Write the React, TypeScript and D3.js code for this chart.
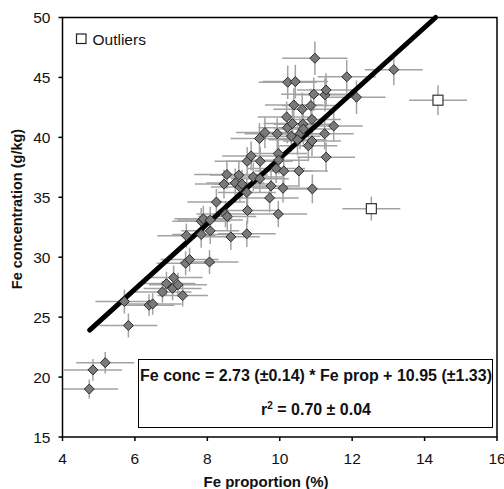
import React from 'react';
import * as d3 from 'd3';

// Fe proportion (%) vs Fe concentration (g/kg), with error bars
const feProp = [
  4.74, 4.84, 5.18, 5.71, 5.82, 6.39, 6.49, 6.76, 6.87, 7.07, 7.04, 7.19, 7.32, 7.40, 7.51, 7.42,
  8.06, 7.83, 7.89, 7.83, 8.08, 8.08, 8.25, 8.50, 8.55, 8.65, 8.46, 8.54, 8.87, 8.77, 8.90, 8.96,
  9.09, 9.10, 9.21, 9.27, 9.11, 9.09, 9.46, 9.45, 9.44, 9.59, 9.76, 9.72, 9.96, 9.93, 9.96, 9.97,
  9.90, 10.11, 10.09, 10.22, 10.43, 10.19, 10.21, 10.39, 10.35, 10.32, 10.56, 10.62, 10.64, 10.65,
  10.53, 10.79, 10.89, 10.86, 10.89, 10.94, 10.97, 10.90, 11.25, 11.28, 11.24, 11.28, 11.49, 11.85,
  12.12, 13.15, 10.49,
];
const feConc = [
  19.0, 20.6, 21.2, 26.3, 24.3, 26.0, 26.1, 27.1, 27.8, 28.3, 27.4, 27.7, 26.8, 29.5, 29.8, 31.8,
  29.6, 33.0, 33.2, 31.9, 32.2, 33.1, 34.6, 33.6, 33.4, 31.7, 36.1, 36.9, 36.85, 36.2, 35.85, 36.1,
  35.4, 38.0, 38.45, 36.7, 33.9, 31.95, 38.0, 36.55, 39.9, 40.4, 35.95, 34.95, 33.6, 40.3, 38.65, 38.1,
  37.4, 37.2, 35.75, 44.6, 44.65, 41.7, 40.8, 42.7, 41.15, 40.1, 40.3, 42.35, 41.1, 40.7,
  37.2, 39.3, 39.7, 42.65, 41.5, 43.6, 46.6, 35.7, 43.55, 43.95, 40.3, 38.35, 40.95, 45.05,
  43.35, 45.65, 39.8,
];
const propErr = [
  0.8, 0.8, 0.8, 0.8, 0.8, 0.7, 0.8, 0.8, 0.8, 0.8, 0.8, 0.8, 0.7, 0.8, 0.8, 0.8,
  0.8, 0.8, 0.8, 0.8, 0.8, 0.9, 0.8, 0.8, 0.8, 0.8, 0.8, 0.9, 0.8, 0.8, 0.8, 0.8,
  0.8, 0.9, 0.8, 0.8, 0.8, 0.8, 0.9, 0.8, 0.8, 0.8, 0.8, 0.8, 0.8, 0.9, 0.8, 0.8,
  0.8, 0.8, 0.8, 0.8, 0.9, 0.8, 0.8, 0.8, 0.8, 0.8, 0.8, 0.8, 0.8, 0.8,
  0.8, 0.8, 0.8, 0.8, 0.8, 0.9, 0.9, 0.8, 0.8, 0.8, 0.8, 0.8, 0.8, 0.8,
  0.8, 0.8, 0.8,
];
const concErr = [
  0.8, 0.9, 0.9, 1.0, 1.0, 0.9, 0.9, 0.9, 1.0, 1.0, 1.0, 1.0, 0.9, 1.0, 1.0, 1.0,
  1.0, 1.1, 1.1, 1.1, 1.1, 1.1, 1.1, 1.1, 1.1, 1.1, 1.2, 1.2, 1.2, 1.2, 1.2, 1.2,
  1.2, 1.2, 1.2, 1.2, 1.1, 1.1, 1.2, 1.2, 1.3, 1.3, 1.2, 1.2, 1.1, 1.3, 1.3, 1.2,
  1.2, 1.2, 1.2, 1.4, 1.4, 1.3, 1.3, 1.4, 1.3, 1.3, 1.3, 1.4, 1.3, 1.3,
  1.2, 1.3, 1.3, 1.4, 1.3, 1.4, 1.4, 1.2, 1.4, 1.4, 1.3, 1.2, 1.3, 1.4,
  1.4, 1.3, 1.3,
];

const outlierProp = [12.53, 14.37];
const outlierConc = [34.05, 43.1];
const outlierPropErr = [0.8, 0.8];
const outlierConcErr = [1.0, 1.25];

const xTicks = [4, 6, 8, 10, 12, 14, 16];
const yTicks = [15, 20, 25, 30, 35, 40, 45, 50];

const slope = 2.73;
const intercept = 10.95;
const fitStart = 4.75;

const W = 504;
const H = 489;
const margin = { top: 17.5, right: 7, bottom: 52, left: 62.5 };
const font = '"Liberation Sans", Arial, sans-serif';

export default function App() {
  const x = d3.scaleLinear().domain([4, 16]).range([margin.left, W - margin.right]);
  const y = d3.scaleLinear().domain([15, 50]).range([H - margin.bottom, margin.top]);

  const points = feProp.map((p, i) => ({ p, c: feConc[i], pe: propErr[i], ce: concErr[i] }));
  const outliers = outlierProp.map((p, i) => ({ p, c: outlierConc[i], pe: outlierPropErr[i], ce: outlierConcErr[i] }));

  const fitEnd = (50 - intercept) / slope;
  const fitLine = d3.line<number>().x(d => x(d)).y(d => y(slope * d + intercept));

  const diamond = d3.symbol().type(d3.symbolDiamond2).size(64)();

  const errBars = (d: { p: number; c: number; pe: number; ce: number }, i: number, key: string) => (
    <g key={key + i} stroke="#a3a3a3" strokeWidth={1.5}>
      <line x1={Math.max(x(d.p - d.pe), x(4))} x2={x(d.p + d.pe)} y1={y(d.c)} y2={y(d.c)} />
      <line x1={x(d.p)} x2={x(d.p)} y1={y(d.c - d.ce)} y2={y(d.c + d.ce)} />
    </g>
  );

  const [x0, x1] = x.range();
  const [yb, yt] = y.range();

  return (
    <svg width={W} height={H} style={{ position: 'absolute', left: 0, top: 0, background: '#fff' }} fontFamily={font}>
      <rect x={0} y={0} width={W} height={H} fill="#fff" />
      {/* error bars */}
      {points.map((d, i) => errBars(d, i, 'e'))}
      {outliers.map((d, i) => errBars(d, i, 'o'))}

      {/* regression line */}
      <path d={fitLine([fitStart, fitEnd]) || ''} stroke="#000" strokeWidth={5} fill="none" strokeLinecap="round" />

      {/* points */}
      {points.map((d, i) => (
        <path key={'p' + i} d={diamond || ''} transform={`translate(${x(d.p)},${y(d.c)})`} fill="#7a7a7a" stroke="#2a2a2a" strokeWidth={1} />
      ))}
      {outliers.map((d, i) => (
        <rect key={'s' + i} x={x(d.p) - 5} y={y(d.c) - 5} width={10} height={10} fill="#fff" stroke="#333" strokeWidth={1.2} />
      ))}

      {/* frame */}
      <rect x={x0} y={yt} width={x1 - x0} height={yb - yt} fill="none" stroke="#000" strokeWidth={1.5} />

      {/* y ticks */}
      {yTicks.map(t => (
        <g key={'yt' + t}>
          <line x1={x0 - 4} x2={x0} y1={y(t)} y2={y(t)} stroke="#000" strokeWidth={1.5} />
          <text x={x0 - 12} y={y(t)} dy="0.36em" textAnchor="end" fontSize={15.5} fill="#111">{t}</text>
        </g>
      ))}
      {/* x ticks */}
      {xTicks.map(t => (
        <g key={'xt' + t}>
          <line x1={x(t)} x2={x(t)} y1={yb} y2={yb + 4} stroke="#000" strokeWidth={1.5} />
          <text x={x(t)} y={463.5} textAnchor="middle" fontSize={15.5} fill="#111">{t}</text>
        </g>
      ))}

      {/* axis titles */}
      <text x={266} y={487} textAnchor="middle" fontSize={15} fontWeight="bold" fill="#111">Fe proportion (%)</text>
      <text transform="translate(22,209) rotate(-90)" textAnchor="middle" fontSize={14.5} fontWeight="bold" fill="#111">Fe concentration (g/kg)</text>

      {/* legend */}
      <rect x={76.5} y={34} width={9.5} height={9.5} fill="#fff" stroke="#222" strokeWidth={1.2} />
      <text x={92.5} y={44.5} fontSize={15.5} fill="#111">Outliers</text>

      {/* equation box */}
      <rect x={138.5} y={359.5} width={354} height={68} fill="#fff" stroke="#000" strokeWidth={1} />
      <text x={316} y={380.5} textAnchor="middle" fontSize={16} fontWeight="bold" fill="#111">
        Fe conc = 2.73 (±0.14) * Fe prop + 10.95 (±1.33)
      </text>
      <text x={316} y={414.5} textAnchor="middle" fontSize={16} fontWeight="bold" fill="#111">
        r<tspan fontSize={10} dy={-6}>2</tspan><tspan dy={6}> = 0.70 ± 0.04</tspan>
      </text>
    </svg>
  );
}
